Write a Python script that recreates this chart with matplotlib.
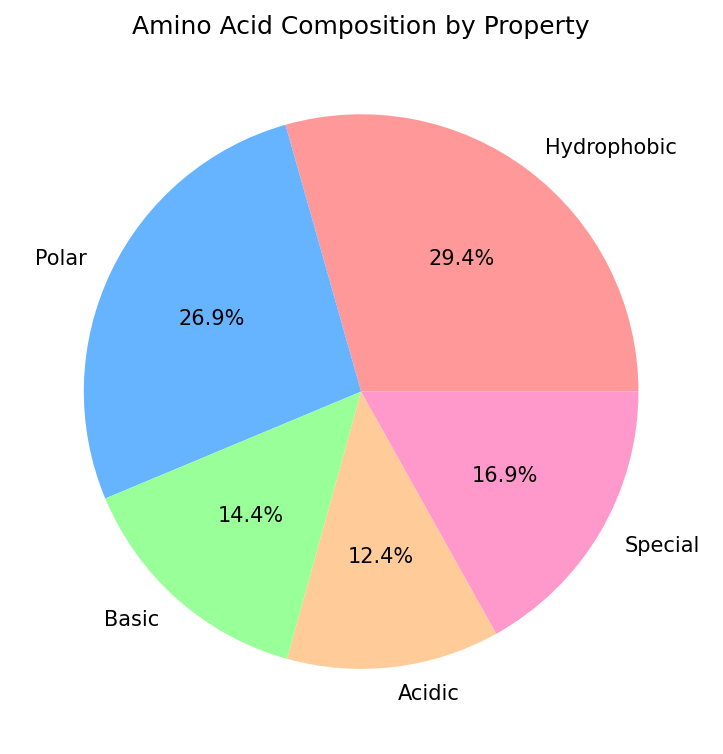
import matplotlib
matplotlib.use("Agg")
import matplotlib.pyplot as plt

categories = ["Hydrophobic", "Polar", "Basic", "Acidic", "Special"]
values = [29.4, 26.9, 14.4, 12.4, 16.9]
colors = ["#ff9999", "#66b3ff", "#99ff99", "#ffcc99", "#ff99cc"]

fig = plt.figure(figsize=(7.23, 7.54), dpi=100)
ax = fig.add_axes([0.0200, 0.0209, 0.959, 0.9195])
ax.pie(values, labels=categories, colors=colors, autopct="%1.1f%%",
       startangle=0, textprops={"fontsize": 15})
ax.set_title("Amino Acid Composition by Property", fontsize=18, pad=8)
fig.savefig("out.png", dpi=100)
